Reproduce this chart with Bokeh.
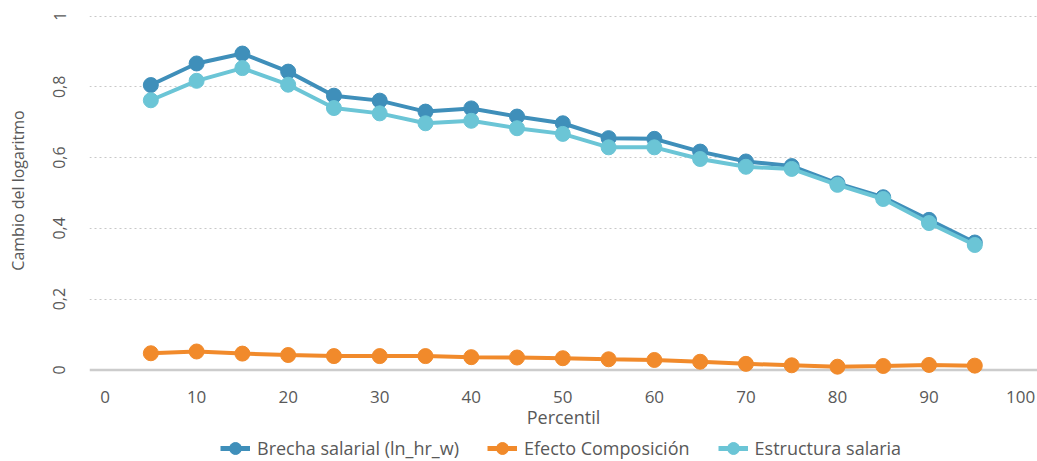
from bokeh.plotting import figure
from bokeh.layouts import column
from bokeh.models import Range1d, FixedTicker, Legend, LegendItem, Span
from bokeh.embed import file_html
from bokeh.resources import INLINE

percentil = [5, 10, 15, 20, 25, 30, 35, 40, 45, 50, 55, 60, 65, 70, 75, 80, 85, 90, 95]
brecha = [0.805, 0.866, 0.894, 0.843, 0.775, 0.761, 0.730, 0.739, 0.716, 0.697, 0.655,
          0.653, 0.617, 0.589, 0.576, 0.527, 0.488, 0.424, 0.360]
efecto = [0.047, 0.052, 0.046, 0.042, 0.039, 0.039, 0.039, 0.036, 0.035, 0.033, 0.030,
          0.028, 0.023, 0.017, 0.013, 0.009, 0.011, 0.014, 0.012]
estructura = [0.762, 0.817, 0.853, 0.806, 0.740, 0.725, 0.697, 0.704, 0.683, 0.667, 0.629,
              0.629, 0.596, 0.574, 0.568, 0.523, 0.483, 0.415, 0.353]
x_ticks = [0, 10, 20, 30, 40, 50, 60, 70, 80, 90, 100]
y_ticks = [0, 0.2, 0.4, 0.6, 0.8, 1]
y_tick_labels = ["0", "0,2", "0,4", "0,6", "0,8", "1"]
series_names = ["Brecha salarial (ln_hr_w)", "Efecto Composición", "Estructura salaria"]
colors = ["#3f8fba", "#f18a2b", "#6bc5d6"]
series_values = [brecha, efecto, estructura]

FONT = "Open Sans"
TXT = "#595959"

p = figure(width=1037, height=438, output_backend="svg", toolbar_location=None,
           x_range=Range1d(-1.7, 101.85), y_range=Range1d(-0.03, 1.044),
           min_border_left=89, min_border_right=0, min_border_top=0, min_border_bottom=58)
p.outline_line_color = None
p.background_fill_color = "white"
p.border_fill_color = "white"

# grid
p.xgrid.grid_line_color = None
p.ygrid.ticker = FixedTicker(ticks=y_ticks[1:])
p.ygrid.grid_line_color = "#c8c8c8"
p.ygrid.grid_line_dash = "2 3"
p.ygrid.grid_line_width = 1

# zero line
p.add_layout(Span(location=0, dimension="width", line_color="#cccccc", line_width=2.5, level="underlay"))

# x axis
xa = p.xaxis[0]
xa.ticker = FixedTicker(ticks=x_ticks)
xa.axis_line_color = None
xa.major_tick_line_color = None
xa.minor_tick_line_color = None
xa.major_tick_out = 0
xa.major_tick_in = 0
xa.major_label_standoff = 10
xa.major_label_text_font = FONT
xa.major_label_text_font_size = "17px"
xa.major_label_text_color = TXT
xa.axis_label = "Percentil"
xa.axis_label_standoff = -1
xa.axis_label_text_font = FONT
xa.axis_label_text_font_size = "18px"
xa.axis_label_text_font_style = "normal"
xa.axis_label_text_color = TXT

# y axis
ya = p.yaxis[0]
ya.ticker = FixedTicker(ticks=y_ticks)
ya.major_label_overrides = dict(zip(y_ticks, y_tick_labels))
ya.major_label_orientation = "vertical"
ya.axis_line_color = None
ya.major_tick_line_color = None
ya.minor_tick_line_color = None
ya.major_tick_out = 0
ya.major_tick_in = 0
ya.major_label_standoff = 24
ya.major_label_text_font = FONT
ya.major_label_text_font_size = "16px"
ya.major_label_text_color = TXT
ya.axis_label = "Cambio del logaritmo"
ya.axis_label_standoff = 22
ya.axis_label_text_font = FONT
ya.axis_label_text_font_size = "16px"
ya.axis_label_text_font_style = "normal"
ya.axis_label_text_color = TXT

for ys, col in zip(series_values, colors):
    p.line(percentil, ys, line_color=col, line_width=4)
    p.scatter(percentil, ys, marker="circle", size=15, fill_color=col, line_color=col)

# legend strip below the chart (its own series lie outside its view, only the legend shows)
q = figure(width=1037, height=23, output_backend="svg", toolbar_location=None,
           x_range=Range1d(-1.7, 101.85), y_range=Range1d(5, 6),
           min_border_left=0, min_border_right=0, min_border_top=0, min_border_bottom=0)
q.axis.visible = False
q.grid.visible = False
q.outline_line_color = None
q.background_fill_color = "white"
q.border_fill_color = "white"

items = []
for name, ys, col in zip(series_names, series_values, colors):
    l = q.line(percentil, ys, line_color=col, line_width=5)
    s = q.scatter(percentil, ys, marker="circle", size=13, fill_color=col, line_color=col)
    items.append(LegendItem(label=name, renderers=[l, s]))

legend = Legend(items=items, orientation="horizontal", location=(131, -3),
                glyph_width=30, glyph_height=32, label_height=14, label_standoff=7, spacing=28,
                padding=0, margin=0, border_line_color=None, background_fill_alpha=0,
                label_text_font=FONT, label_text_font_size="18px", label_text_color=TXT)
q.add_layout(legend, "center")

open("out.html", "w").write(file_html(column(p, q, spacing=0), INLINE))
